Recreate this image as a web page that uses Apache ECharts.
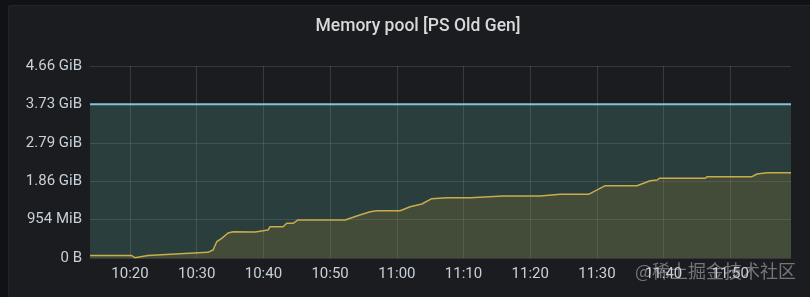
<!DOCTYPE html>
<html>
<head>
<meta charset="utf-8">
<script src="https://cdn.jsdelivr.net/npm/echarts@6/dist/echarts.min.js"></script>
<style>
  html, body { margin: 0; padding: 0; background: #111217; width: 810px; height: 297px; overflow: hidden; }
  #panel { position: absolute; left: 8px; top: 5px; width: 810px; height: 300px; background: #1b1c20; border: 1px solid #222428; border-radius: 2px; }
  #chart { position: absolute; left: 0; top: 0; width: 810px; height: 297px; }
</style>
</head>
<body>
<div id="panel"></div>
<div id="chart"></div>
<script>
// ---- data ----
const title = 'Memory pool [PS Old Gen]';
const timeMin = '10:14:00';
const timeMax = '11:59:06';
const xTickTimes = ['10:20','10:30','10:40','10:50','11:00','11:10','11:20','11:30','11:40','11:50'];
const usedTimes = ["10:14:00","10:20:15","10:20:45","10:22:40","10:26:45","10:31:40","10:32:27","10:33:00","10:33:45","10:34:42","10:35:27","10:38:45","10:39:00","10:40:42","10:41:00","10:42:57","10:43:30","10:44:27","10:45:12","10:52:15","10:54:00","10:56:00","10:57:00","11:00:30","11:02:00","11:03:45","11:05:15","11:07:30","11:11:00","11:15:57","11:21:30","11:24:30","11:28:45","11:31:15","11:36:00","11:38:00","11:39:03","11:39:21","11:46:15","11:46:33","11:53:15","11:54:00","11:55:30","11:59:06"];
// used bytes, in units of 1e9 bytes
const usedValuesG = [0.065,0.065,0.005,0.065,0.104,0.148,0.208,0.424,0.513,0.651,0.685,0.677,0.729,0.729,0.815,0.815,0.904,0.904,0.99,0.99,1.094,1.206,1.232,1.232,1.336,1.406,1.544,1.570,1.570,1.615,1.615,1.659,1.659,1.883,1.883,2.013,2.031,2.076,2.076,2.117,2.117,2.188,2.221,2.221];
const maxTimes = ["10:14:00","11:59:06"];
const maxValuesG = [4.005, 4.005];
const yTickValuesG = [0, 1, 2, 3, 4, 5];
const yTickLabels = ['0 B', '954 MiB', '1.86 GiB', '2.79 GiB', '3.73 GiB', '4.66 GiB'];
const watermark = '@稀土掘金技术社区';

// ---- helpers: x values are minutes since midnight ----
function toMin(s) {
  const p = s.split(':').map(Number);
  return p[0] * 60 + p[1] + (p[2] || 0) / 60;
}
function pad(n) { return (n < 10 ? '0' : '') + n; }
const usedData = usedTimes.map((t, i) => [toMin(t), usedValuesG[i] * 1e9]);
const maxData = maxTimes.map((t, i) => [toMin(t), maxValuesG[i] * 1e9]);
const xTicks = xTickTimes.map(toMin);

const chart = echarts.init(document.getElementById('chart'), null, { renderer: 'canvas' });
const font = 'Roboto, "Noto Sans", sans-serif';
chart.setOption({
  backgroundColor: 'transparent',
  animation: false,
  grid: { left: 90, right: 19, top: 66, bottom: 39, containLabel: false },
  xAxis: {
    type: 'value',
    min: toMin(timeMin), max: toMin(timeMax),
    axisLine: { show: false },
    axisTick: { show: false, customValues: xTicks },
    splitLine: { show: true, lineStyle: { color: 'rgba(255,255,255,0.13)', width: 1 } },
    axisLabel: {
      customValues: xTicks, showMinLabel: true, showMaxLabel: true,
      color: '#c7d0d9', fontSize: 15, fontFamily: font, margin: 9,
      formatter: v => { const m = Math.round(v); return pad(Math.floor(m / 60)) + ':' + pad(m % 60); }
    }
  },
  yAxis: {
    type: 'value', min: 0, max: 5e9, interval: 1e9,
    axisLine: { show: false }, axisTick: { show: false },
    splitLine: { show: true, lineStyle: { color: 'rgba(255,255,255,0.12)', width: 1 } },
    axisLabel: {
      color: '#c7d0d9', fontSize: 15, fontFamily: font, margin: 8,
      formatter: v => { const i = yTickValuesG.indexOf(Math.round(v / 1e9)); return i >= 0 ? yTickLabels[i] : ''; }
    }
  },
  series: [
    {
      name: 'max', type: 'line', data: maxData, symbol: 'none',
      lineStyle: { color: '#86c3d3', width: 2 },
      areaStyle: { color: 'rgba(102,198,182,0.2)', opacity: 1 }
    },
    {
      name: 'used', type: 'line', data: usedData, symbol: 'none',
      lineStyle: { color: '#c9ad4c', width: 1.5 },
      areaStyle: { color: 'rgba(170,125,45,0.2)', opacity: 1 }
    }
  ],
  graphic: [
    {
      type: 'text', x: 418, y: 27, silent: true,
      style: { text: title, fill: '#d8d9da', fontSize: 17.5, fontWeight: 500, fontFamily: font, align: 'center', verticalAlign: 'middle' }
    },
    {
      type: 'text', right: 14, top: 262, silent: true,
      style: { text: watermark, fill: 'rgba(205,205,205,0.5)', fontSize: 18, fontFamily: '"Noto Sans CJK SC", sans-serif' }
    }
  ]
});
</script>
</body>
</html>
